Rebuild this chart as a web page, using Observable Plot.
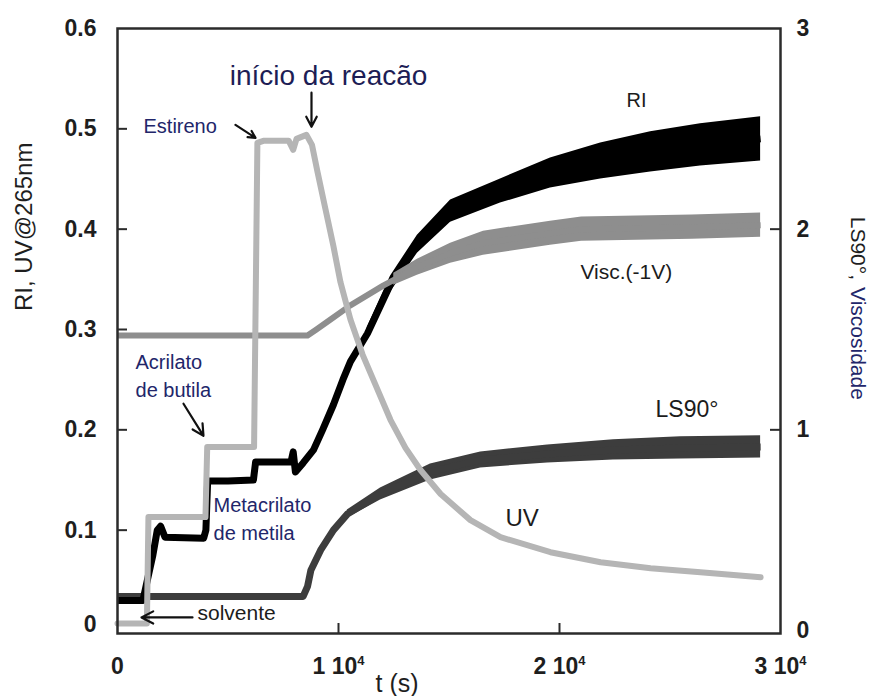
<!DOCTYPE html>
<html>
<head>
<meta charset="utf-8">
<script src="https://cdn.jsdelivr.net/npm/d3@7"></script>
<script src="https://cdn.jsdelivr.net/npm/@observablehq/plot@0.6"></script>
<style>
  html, body { margin: 0; padding: 0; background: #fff; }
  #chart { width: 877px; height: 696px; }
</style>
</head>
<body>
<div id="chart"></div>
<script>
// Reaction monitoring: RI and UV@265nm on the left axis,
// LS90° and viscosity on the right axis (0–3 against 0–0.6).

// ---- data: [t (s), value] ----
// UV @ 265 nm (left units)
const uvPoints = [
  [0, 0.007], [1330, 0.007], [1400, 0.113], [3980, 0.113], [4060, 0.183],
  [6180, 0.183], [6330, 0.486], [6600, 0.488], [7750, 0.488], [7950, 0.479],
  [8100, 0.49], [8550, 0.494], [8800, 0.484], [9050, 0.457], [9410, 0.42],
  [9770, 0.383], [10090, 0.347], [10540, 0.31], [11090, 0.275], [11670, 0.245],
  [12350, 0.21], [13030, 0.182], [13710, 0.16], [14620, 0.136], [15970, 0.11],
  [17330, 0.093], [19590, 0.078], [21860, 0.068], [24120, 0.062],
  [26380, 0.058], [29100, 0.053]
];

// Refractive index (left units)
const riPoints = [
  [0, 0.03], [1150, 0.03], [1350, 0.05], [1600, 0.075], [1800, 0.1],
  [1950, 0.104], [2150, 0.093], [3900, 0.092], [4000, 0.1], [4080, 0.149],
  [5000, 0.149], [6150, 0.15], [6250, 0.168], [7850, 0.168], [7950, 0.178],
  [8050, 0.158], [8400, 0.167], [8870, 0.18], [9280, 0.2], [9770, 0.225],
  [10200, 0.25], [10540, 0.268], [11310, 0.296], [12350, 0.345],
  [13570, 0.385], [15070, 0.418], [17330, 0.438], [19590, 0.456],
  [21860, 0.468], [24120, 0.477], [26380, 0.484], [29100, 0.49]
];
// RI noise envelope: [t, low, high]
const riBand = [
  [11300, 0.29, 0.302], [12350, 0.337, 0.353], [13570, 0.376, 0.394],
  [15070, 0.407, 0.429], [17330, 0.426, 0.45], [19590, 0.441, 0.471],
  [21860, 0.45, 0.486], [24120, 0.457, 0.497], [26380, 0.463, 0.505],
  [29100, 0.468, 0.512]
];

// Viscosity, -1V offset (right units)
const viscPoints = [
  [0, 1.47], [8600, 1.47], [9000, 1.5], [9640, 1.55], [10540, 1.62],
  [12040, 1.72], [13570, 1.81], [15070, 1.88], [16560, 1.93], [19590, 1.98],
  [21000, 2.0], [26000, 2.01], [29100, 2.02]
];
const viscBand = [
  [12500, 1.72, 1.78], [13570, 1.77, 1.85], [15070, 1.83, 1.93],
  [16560, 1.87, 1.99], [19590, 1.92, 2.04], [21000, 1.94, 2.06],
  [26000, 1.95, 2.07], [29100, 1.96, 2.08]
];

// Light scattering at 90° (right units)
const lsPoints = [
  [0, 0.17], [8400, 0.17], [8600, 0.22], [8750, 0.3], [9190, 0.4],
  [9770, 0.5], [10400, 0.58], [11900, 0.68], [14160, 0.79], [16430, 0.85],
  [19460, 0.88], [22440, 0.9], [25480, 0.91], [29100, 0.915]
];
const lsBand = [
  [10400, 0.56, 0.6], [11900, 0.65, 0.71], [14160, 0.75, 0.83],
  [16430, 0.81, 0.89], [19460, 0.835, 0.925], [22440, 0.85, 0.95],
  [25480, 0.855, 0.965], [29100, 0.86, 0.97]
];

// ---- axes ----
const xTicks = [0, 10000, 20000, 30000];
const leftTicks = [0, 0.1, 0.2, 0.3, 0.4, 0.5, 0.6];
const rightTicks = [0, 1, 2, 3];
const RIGHT_PER_LEFT = 5;

// ---- annotations (data coordinates) ----
const NAVY = "#22266a";
const INK = "#1c1c1c";
const notes = [
  {text: "início da reacão", t: 9548, v: 0.553, size: 28, color: "#1d1d55", anchor: "middle"},
  {text: "Estireno", t: 1176, v: 0.502, size: 20, color: NAVY, anchor: "start"},
  {text: "Acrilato", t: 815, v: 0.267, size: 20, color: NAVY, anchor: "start"},
  {text: "de butila", t: 815, v: 0.239, size: 20, color: NAVY, anchor: "start"},
  {text: "Metacrilato", t: 4344, v: 0.124, size: 20, color: NAVY, anchor: "start"},
  {text: "de metila", t: 4344, v: 0.097, size: 20, color: NAVY, anchor: "start"},
  {text: "solvente", t: 3620, v: 0.017, size: 21, color: INK, anchor: "start"},
  {text: "RI", t: 23484, v: 0.528, size: 20, color: INK, anchor: "middle"},
  {text: "Visc.(-1V)", t: 20950, v: 0.357, size: 21, color: INK, anchor: "start"},
  {text: "LS90°", t: 24344, v: 0.22, size: 23, color: INK, anchor: "start"},
  {text: "UV", t: 17557, v: 0.112, size: 24, color: INK, anchor: "start"}
];
const arrows = [
  {t1: 8778, v1: 0.536, t2: 8778, v2: 0.502},   // início da reacão
  {t1: 5339, v1: 0.504, t2: 6244, v2: 0.491},   // Estireno
  {t1: 2986, v1: 0.226, t2: 3891, v2: 0.194},   // Acrilato de butila
  {t1: 3394, v1: 0.013, t2: 1086, v2: 0.013}    // solvente
];

// ---- helpers ----
const toLeft = v => v / RIGHT_PER_LEFT;
const pts = (arr, f = v => v) => arr.map(([t, v]) => ({t, v: f(v)}));
const band = (arr, f = v => v) => arr.map(([t, lo, hi]) => ({t, lo: f(lo), hi: f(hi)}));

const tickFont = {fontSize: 23, fontWeight: "bold", fill: "#1e1e1e", label: null};

const chart = Plot.plot({
  width: 877,
  height: 696,
  marginLeft: 117,
  marginRight: 97,
  marginTop: 28,
  marginBottom: 63,
  style: {fontFamily: "'Liberation Sans', Arial, sans-serif", background: "#fff", color: "#1e1e1e"},
  x: {domain: [0, 30000]},
  y: {domain: [-0.003, 0.6]},
  marks: [
    // LS90°
    Plot.areaY(band(lsBand, toLeft), {x: "t", y1: "lo", y2: "hi", fill: "#3d3d3d"}),
    Plot.line(pts(lsPoints, toLeft), {x: "t", y: "v", stroke: "#3d3d3d", strokeWidth: 7, strokeLinecap: "butt"}),
    // RI
    Plot.areaY(band(riBand), {x: "t", y1: "lo", y2: "hi", fill: "#000"}),
    Plot.line(pts(riPoints), {x: "t", y: "v", stroke: "#000", strokeWidth: 7, strokeLinecap: "butt"}),
    // viscosity
    Plot.areaY(band(viscBand, toLeft), {x: "t", y1: "lo", y2: "hi", fill: "#8e8e8e"}),
    Plot.line(pts(viscPoints, toLeft), {x: "t", y: "v", stroke: "#8e8e8e", strokeWidth: 6, strokeLinecap: "butt"}),
    // UV
    Plot.line(pts(uvPoints), {x: "t", y: "v", stroke: "#b5b5b5", strokeWidth: 6}),

    // annotations
    ...notes.map(n => Plot.text([n], {
      x: "t", y: "v", text: "text", fontSize: n.size, fill: n.color,
      textAnchor: n.anchor, lineAnchor: "middle"
    })),
    Plot.arrow(arrows, {
      x1: "t1", y1: "v1", x2: "t2", y2: "v2",
      stroke: "#111", strokeWidth: 2.2, headLength: 9, headAngle: 55
    }),

    // frame and inward ticks
    Plot.frame({stroke: "#2b2b2b", strokeWidth: 2.5}),
    Plot.axisY(leftTicks.filter(d => d > 0 && d < 0.6), {tickSize: 10, dx: 10, fill: "none", label: null, stroke: "#2b2b2b", strokeWidth: 2}),
    Plot.axisY(rightTicks.filter(d => d > 0 && d < 3).map(toLeft), {anchor: "right", tickSize: 11, dx: -11, fill: "none", label: null, stroke: "#2b2b2b", strokeWidth: 2}),
    Plot.axisX(xTicks.filter(d => d > 0 && d < 30000), {tickSize: 10, dy: -10, fill: "none", label: null, stroke: "#2b2b2b", strokeWidth: 2}),

    // tick labels
    Plot.axisY(leftTicks.filter(d => d > 0), {tickSize: 0, tickPadding: 21, tickFormat: d3.format(".1f"), ...tickFont}),
    Plot.axisY([0], {tickSize: 0, tickPadding: 21, tickFormat: () => "0", dy: -6, ...tickFont}),
    Plot.axisY(rightTicks.map(toLeft), {anchor: "right", tickSize: 0, tickPadding: 16, tickFormat: d => String(Math.round(d * RIGHT_PER_LEFT)), ...tickFont}),
    Plot.axisX(xTicks, {tickSize: 0, tickPadding: 24, tickFormat: d => d === 0 ? "0" : `${d / 1e4} 10^4`, ...tickFont}),

    // axis titles
    Plot.text(["t (s)"], {text: d => d, frameAnchor: "bottom", dx: -52, dy: 50, fontSize: 25, fill: "#1e1e1e", lineAnchor: "middle"}),
    Plot.text(["RI, UV@265nm"], {text: d => d, frameAnchor: "left", dx: -93, dy: -20, rotate: -90, fontSize: 24, fill: "#1e1e1e", lineAnchor: "middle"}),
    Plot.text(["LS90°,"], {text: d => d, frameAnchor: "right", dx: 77, dy: -51, rotate: 90, textAnchor: "end", fontSize: 21, fill: "#1e1e1e", lineAnchor: "middle"}),
    Plot.text(["Viscosidade"], {text: d => d, frameAnchor: "right", dx: 77, dy: -44, rotate: 90, textAnchor: "start", fontSize: 21, fill: NAVY, lineAnchor: "middle"})
  ]
});

// Render "n 10^4" tick labels with a raised exponent.
d3.select(chart).selectAll("text").each(function () {
  const s = this.textContent;
  const m = /^(.*)\^(\d+)$/.exec(s);
  if (!m) return;
  const sel = d3.select(this);
  sel.text(null);
  sel.append("tspan").text(m[1]);
  sel.append("tspan").attr("dy", "-9").attr("font-size", "13").text(m[2]);
});

document.getElementById("chart").appendChild(chart);
</script>
</body>
</html>
